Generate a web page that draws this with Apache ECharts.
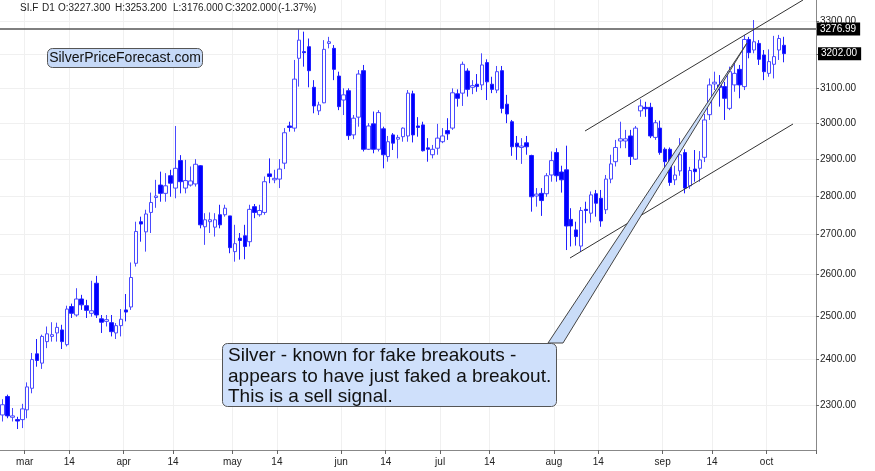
<!DOCTYPE html>
<html>
<head>
<meta charset="utf-8">
<script src="https://cdn.jsdelivr.net/npm/echarts@6/dist/echarts.min.js"></script>
<style>
html,body{margin:0;padding:0;background:#fff;}
#chart{width:875px;height:471px;}
</style>
</head>
<body>
<div id="chart"></div>
<script>
// ---- data (SI.F daily) ----
const opens = [2278,2318,2273,2268,2268,2289,2336,2413,2392,2441,2453,2461,2468,2434,2523,2503,2541,2525,2507,2579,
2494,2488,2485,2461,2478,2515,2522,2628,2733,2707,2757,2796,2829,2807,2854,2821,2895,2821,2829,2832,
2881,2720,2733,2719,2751,2751,2748,2657,2691,2697,2682,2772,2751,2757,2859,2843,2845,2888,2991,2985,
3188,3208,3223,3102,3034,3057,3233,3218,3135,3065,3092,2966,3016,3151,2926,2997,2926,2983,2906,2966,
2954,2961,2963,3083,2991,2994,2930,2911,2929,2947,2978,2985,3083,3085,3150,3102,3111,3109,3175,3111,
3094,3151,3053,3003,2943,2931,2944,2909,2800,2807,2806,2856,2917,2864,2870,2739,2712,2671,2765,2755,
2806,2794,2764,2845,2892,2949,2949,2963,2899,3034,3044,3044,2959,2985,2926,2926,2843,2867,2917,2827,
2872,2874,2904,3023,3112,3109,3104,3041,3109,3155,3104,3245,3213,3233,3198,3143,3170,3213,3227.3];
const highs = [2312,2322,2293,2274,2302,2349,2415,2447,2457,2476,2486,2485,2480,2525,2530,2567,2551,2539,2585,2597,
2503,2503,2503,2484,2517,2553,2630,2733,2746,2764,2809,2843,2865,2861,2870,2991,2910,2897,2879,2899,
2883,2755,2757,2755,2777,2777,2748,2725,2704,2725,2777,2779,2777,2852,2901,2870,2899,2985,3003,3183,
3276,3269,3248,3123,3060,3243,3253,3228,3148,3099,3099,3022,3153,3168,2999,3032,3036,2989,2963,2971,
2966,2987,3094,3092,3016,3003,2957,2938,2997,2985,3013,3099,3096,3178,3158,3123,3141,3203,3185,3133,
3165,3165,3080,3008,2963,2957,2963,2911,2821,2821,2861,2920,2929,2881,2936,2768,2733,2771,2785,2812,
2816,2816,2856,2911,2952,3003,2980,2980,2991,3067,3060,3057,3008,3006,2931,2931,2881,2957,2926,2878,
2924,2921,3025,3128,3148,3138,3118,3163,3178,3168,3259,3253,3305,3243,3213,3215,3256,3259,3253.2];
const lows = [2264,2271,2264,2248,2250,2271,2325,2384,2379,2426,2441,2441,2424,2430,2496,2499,2515,2496,2499,2496,
2461,2476,2453,2447,2453,2488,2515,2620,2682,2657,2704,2769,2785,2785,2798,2794,2807,2807,2825,2825,
2716,2674,2704,2695,2716,2746,2653,2632,2637,2638,2670,2742,2746,2751,2834,2834,2821,2872,2975,2975,
3104,3163,3102,3027,3022,3056,3218,3123,3036,3022,2952,2954,2989,2920,2924,2915,2920,2874,2892,2924,
2901,2947,2947,2945,2961,2920,2892,2901,2911,2943,2952,2980,3046,3048,3075,3082,3089,3094,3065,3085,
3085,3027,2999,2908,2897,2886,2911,2759,2772,2748,2798,2838,2838,2809,2661,2670,2672,2656,2729,2731,
2746,2720,2753,2834,2879,2929,2929,2883,2897,3017,3017,2957,2952,2911,2870,2827,2829,2854,2807,2819,
2838,2838,2891,3008,3094,3046,3008,3036,3089,3070,3094,3188,3203,3168,3123,3133,3128,3183,3176];
const closes = [2300,2276,2276,2265,2291,2339,2400,2398,2453,2459,2457,2474,2441,2517,2507,2541,2527,2514,2513,2503,
2486,2492,2464,2478,2493,2510,2593,2708,2727,2753,2783,2800,2807,2827,2834,2874,2838,2841,2840,2885,
2725,2738,2738,2738,2725,2768,2667,2677,2685,2670,2765,2757,2762,2838,2852,2847,2872,2972,2987,3126,
3243,3205,3151,3048,3051,3215,3238,3155,3046,3080,2964,3013,3141,2926,2991,2926,3029,2911,2947,2943,
2959,2985,3085,2966,2987,2922,2926,2926,2957,2963,2969,3086,3070,3170,3096,3107,3104,3168,3118,3096,
3148,3041,3025,2933,2933,2935,2933,2798,2805,2788,2854,2895,2854,2843,2722,2722,2695,2762,2762,2803,
2781,2735,2845,2886,2931,2955,2955,2906,2985,3048,3040,2963,3000,2917,2892,2836,2856,2911,2821,2868,
2865,2897,3008,3109,3117,3102,3070,3148,3143,3109,3245,3205,3238,3185,3148,3178,3193,3248,3202];

const monthNames = ['jan','feb','mar','apr','may','jun','jul','aug','sep','oct','nov','dec'];
const yTickValues = [2300,2400,2500,2600,2700,2800,2900,3000,3100,3200,3300];
const lastPrice = 3202.00;
const levelPrice = 3276.99;
const header = [['SI.F',20],['D1',42],['O:3227.300',58],['H:3253.200',115],['L:3176.000',173],['C:3202.000',225],['(-1.37%)',278]];
const noteText = 'Silver - known for fake breakouts -\nappears to have just faked a breakout.\nThis is a sell signal.';

// trading-day categories: weekdays from 23 Feb 2024, minus exchange holidays, plus a few empty future slots
const holidays = ['2024-03-29','2024-05-27'];
const categories = [];
(function () {
  const d = new Date(Date.UTC(2024, 1, 23));
  while (categories.length < 165) {
    const wd = d.getUTCDay();
    const s = d.toISOString().slice(0, 10);
    if (wd !== 0 && wd !== 6 && holidays.indexOf(s) < 0) categories.push(s);
    d.setUTCDate(d.getUTCDate() + 1);
  }
})();
const tickLabels = categories.map(function (c, i) {
  if (i === 0 || i >= opens.length) return '';
  const m = +c.slice(5, 7), dd = +c.slice(8, 10);
  const p = categories[i - 1], pm = +p.slice(5, 7), pd = +p.slice(8, 10);
  if (m !== pm) return monthNames[m - 1];
  if (dd >= 14 && pd < 14) return '14';
  return '';
});
const showTick = function (i) { return tickLabels[i] !== ''; };

const ohlc = opens.map(function (o, i) { return [o, closes[i], lows[i], highs[i]]; });

const FONT = '"Liberation Sans", Arial, Helvetica, sans-serif';
const chart = echarts.init(document.getElementById('chart'), null, {renderer: 'canvas'});

const graphics = header.map(function (h) {
  return {type: 'text', x: h[1], y: 8.5, z: 100,
    style: {text: h[0], font: '10px ' + FONT, fill: '#222', verticalAlign: 'middle'}};
});
graphics.push(
  {type: 'line', z: 100, shape: {x1: 585, y1: 131, x2: 803, y2: 0}, style: {stroke: '#333', lineWidth: 1}},
  {type: 'line', z: 100, shape: {x1: 570, y1: 258, x2: 793, y2: 124}, style: {stroke: '#333', lineWidth: 1}},
  {type: 'polygon', z: 100, shape: {points: [[548, 343], [563, 343], [747, 43]]},
    style: {fill: '#c9dcf8', stroke: '#444', lineWidth: 1}},
  {type: 'rect', z: 101, shape: {x: 222.5, y: 343.5, width: 334, height: 63, r: 5},
    style: {fill: '#cfe0fb', stroke: '#555', lineWidth: 1}},
  {type: 'text', z: 102, x: 228, y: 346,
    style: {text: noteText, font: '19px ' + FONT, fill: '#111', lineHeight: 20.5}},
  {type: 'rect', z: 101, shape: {x: 47.5, y: 48.5, width: 155, height: 19, r: 5},
    style: {fill: '#c6d9f7', stroke: '#555', lineWidth: 1}},
  {type: 'text', z: 102, x: 125, y: 58,
    style: {text: 'SilverPriceForecast.com', font: '14px ' + FONT, fill: '#111', align: 'center', verticalAlign: 'middle'}}
);

chart.setOption({
  animation: false,
  backgroundColor: '#ffffff',
  textStyle: {fontFamily: FONT},
  grid: {left: -2, right: 59, top: 0, bottom: 21},
  xAxis: {
    type: 'category', data: categories, boundaryGap: true,
    axisLine: {show: true, lineStyle: {color: '#888', width: 1}},
    axisTick: {show: true, interval: showTick, length: 4, lineStyle: {color: '#666'}},
    axisLabel: {interval: showTick, formatter: function (v, i) { return tickLabels[i]; },
      fontSize: 10, color: '#222', margin: 7, padding: [0, 5, 0, 0]},
    splitLine: {show: true, interval: showTick, lineStyle: {color: '#f0f0f0', width: 1}}
  },
  yAxis: {
    type: 'log', logBase: 10, position: 'right', min: 2204, max: 3368, scale: true,
    axisLine: {show: true, lineStyle: {color: '#888', width: 1}},
    axisTick: {show: true, length: 3, customValues: yTickValues, lineStyle: {color: '#666'}},
    axisLabel: {customValues: yTickValues, formatter: function (v) { return Number(v).toFixed(2); },
      fontSize: 10, color: '#222', margin: 4},
    splitLine: {show: true, lineStyle: {color: '#f0f0f0', width: 1}}
  },
  series: [{
    type: 'candlestick',
    data: ohlc,
    barWidth: 4,
    itemStyle: {color: '#ffffff', color0: '#0000ff', borderColor: '#4a4aff', borderColor0: '#1f1fff', borderWidth: 1},
    markLine: {
      silent: true, symbol: 'none', animation: false,
      data: [
        {yAxis: levelPrice, lineStyle: {color: '#555', width: 1.5, type: 'solid'},
          label: {show: true, position: 'end', distance: 1, formatter: levelPrice.toFixed(2),
            backgroundColor: '#000', color: '#fff', fontSize: 10, padding: [2, 4, 1, 3]}},
        {yAxis: lastPrice, lineStyle: {color: 'rgba(0,0,0,0)', width: 1, type: 'solid'},
          label: {show: true, position: 'end', distance: 2, formatter: lastPrice.toFixed(2),
            backgroundColor: '#000', color: '#fff', fontSize: 10, padding: [2, 4, 1, 3]}}
      ]
    }
  }],
  graphic: graphics
});
</script>
</body>
</html>
